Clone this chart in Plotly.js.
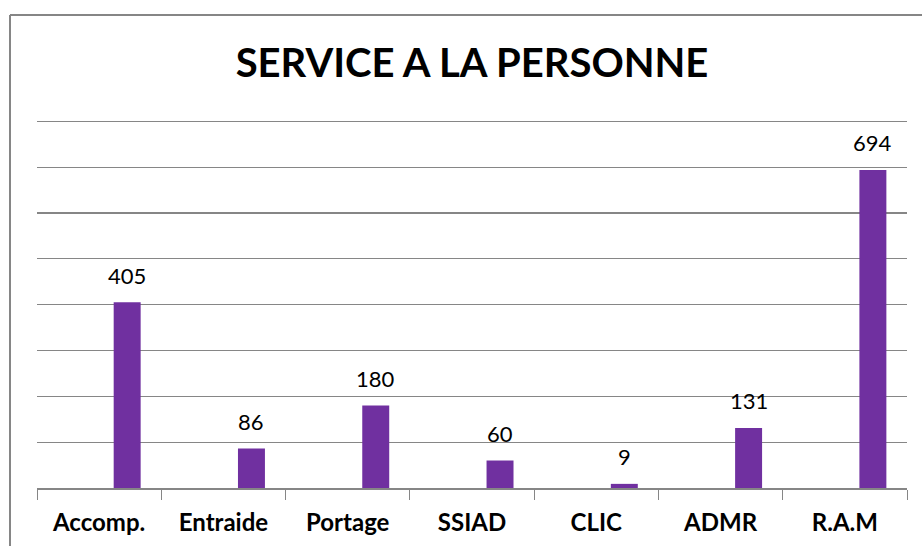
<!DOCTYPE html>
<html>
<head>
<meta charset="utf-8">
<script src="https://cdn.plot.ly/plotly-3.0.1.min.js"></script>
<style>html,body{margin:0;padding:0;background:#fff;}#chart{width:922px;height:546px;}</style>
</head>
<body>
<div id="chart"></div>
<script>
var categories = ["Accomp.", "Entraide", "Portage", "SSIAD", "CLIC", "ADMR", "R.A.M"];
var values = [405, 86, 180, 60, 9, 131, 694];
var chartTitle = "SERVICE A LA PERSONNE";

var W = 922, H = 546;
var mL = 37, mR = 15, mT = 119, mB = 58;
var pw = W - mL - mR, ph = H - mT - mB;
var barOffset = 0.117, barWidth = 0.217;

var trace = {
  type: 'bar',
  x: categories,
  y: values,
  marker: {color: '#7030A0'},
  offset: barOffset,
  width: barWidth,
  hoverinfo: 'x+y'
};

var annotations = values.map(function(v, i) {
  return {
    x: i + barOffset + barWidth / 2,
    y: v,
    xref: 'x', yref: 'y',
    text: String(v),
    showarrow: false,
    yanchor: 'middle',
    xanchor: 'center',
    yshift: 27,
    font: {family: 'Lato, sans-serif', size: 22, color: '#000'}
  };
});

var greyC = '#868686';
var layout = {
  width: W, height: H,
  margin: {l: mL, r: mR, t: mT, b: mB, pad: 0},
  paper_bgcolor: '#fff', plot_bgcolor: '#fff',
  showlegend: false,
  title: {
    text: chartTitle,
    xref: 'paper', x: 0.5, xanchor: 'center',
    yref: 'container', y: 1 - 63 / H, yanchor: 'middle',
    font: {family: 'Lato, sans-serif', size: 40, color: '#000', weight: 'bold'}
  },
  xaxis: {
    type: 'category',
    range: [-0.5, 6.5],
    showgrid: false,
    zeroline: false,
    showline: true, linecolor: greyC, linewidth: 1.5,
    ticks: 'outside', tickson: 'boundaries', ticklen: 10, tickcolor: greyC, tickwidth: 1,
    ticklabelstandoff: 13,
    tickfont: {family: 'Lato, sans-serif', size: 24, color: '#000', weight: 'bold'},
    fixedrange: true
  },
  yaxis: {
    range: [0, 805],
    dtick: 100, tick0: 0,
    showgrid: true, gridcolor: greyC, gridwidth: 1.2,
    zeroline: false,
    showticklabels: false,
    ticks: '',
    fixedrange: true
  },
  annotations: annotations,
  shapes: [
    {type: 'line', xref: 'paper', yref: 'paper',
     x0: (10 - mL) / pw, x1: (W + 5 - mL) / pw,
     y0: (H - mB - 15) / ph, y1: (H - mB - 15) / ph,
     line: {color: greyC, width: 2}},
    {type: 'line', xref: 'paper', yref: 'paper',
     x0: (10 - mL) / pw, x1: (10 - mL) / pw,
     y0: (H - mB - 15) / ph, y1: (H - mB - H - 5) / ph,
     line: {color: greyC, width: 2}}
  ]
};

Plotly.newPlot('chart', [trace], layout, {displayModeBar: false, staticPlot: true});
</script>
</body>
</html>
